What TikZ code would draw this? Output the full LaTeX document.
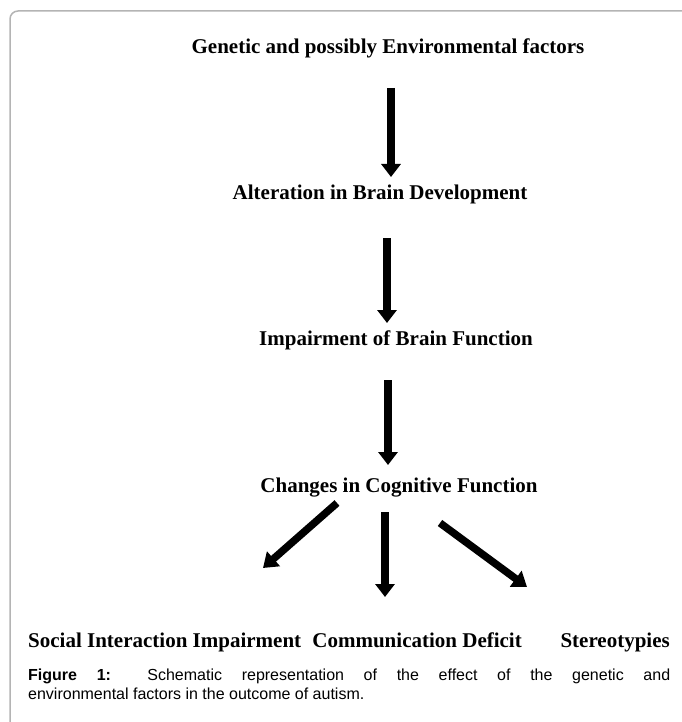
\documentclass[tikz,border=0pt]{standalone}
\usepackage{fontspec}
\setmainfont{Liberation Serif}
\newfontfamily\capfont{Liberation Sans}
\usetikzlibrary{arrows.meta}
\definecolor{framegray}{HTML}{B4B4B4}
\begin{document}
\begin{tikzpicture}[x=1pt,y=-1pt,
  stage/.style={font=\fontsize{21}{24}\selectfont\bfseries, inner sep=0pt, anchor=base},
  outcome/.style={font=\fontsize{21}{24}\selectfont\bfseries, inner sep=0pt},
  bigarrow/.style={line width=8pt, -{Triangle[width=19pt,length=13pt]}},
  diagarrow/.style={line width=7.5pt, -{Triangle[width=19pt,length=14pt]}},
  caption/.style={font=\capfont\fontsize{16}{19.5}\selectfont, inner sep=0pt,
    text width=642pt, align=justify, anchor=base west}]
\useasboundingbox (0,0) rectangle (681,722);

% frame around the figure, open towards the right and bottom
\draw[framegray, line width=1.5pt, rounded corners=8pt] (10,740) -- (10,11) -- (700,11);

% chain of stages
\node[stage] (gen) at (388,54) {Genetic and possibly Environmental factors};
\node[stage] (alt) at (380,199) {Alteration in Brain Development};
\node[stage] (imp) at (396,345) {Impairment of Brain Function};
\node[stage] (cog) at (399,492) {Changes in Cognitive Function};

% outcomes
\node[outcome, anchor=base west] (soc) at (28,647) {Social Interaction Impairment};
\node[outcome, anchor=base east] (com) at (522,647) {Communication Deficit};
\node[outcome, anchor=base east] (ste) at (670,647) {Stereotypies};

% arrow end points
\coordinate (a1s) at (391,88);  \coordinate (a1e) at (391,177);
\coordinate (a2s) at (387,238); \coordinate (a2e) at (387,323);
\coordinate (a3s) at (388,380); \coordinate (a3e) at (388,465);
\coordinate (l1s) at (337,503); \coordinate (l1e) at (263,568);
\coordinate (m1s) at (385,512); \coordinate (m1e) at (385,597);
\coordinate (r1s) at (440,523); \coordinate (r1e) at (527,587);

\draw[bigarrow] (a1s) -- (a1e);
\draw[bigarrow] (a2s) -- (a2e);
\draw[bigarrow] (a3s) -- (a3e);
\draw[diagarrow] (l1s) -- (l1e);
\draw[bigarrow] (m1s) -- (m1e);
\draw[diagarrow] (r1s) -- (r1e);

% caption
\node[caption] (cap) at (28,680) {{\bfseries Figure 1:} Schematic representation of the effect of the genetic and\linebreak environmental factors in the outcome of autism.};
\end{tikzpicture}
\end{document}
